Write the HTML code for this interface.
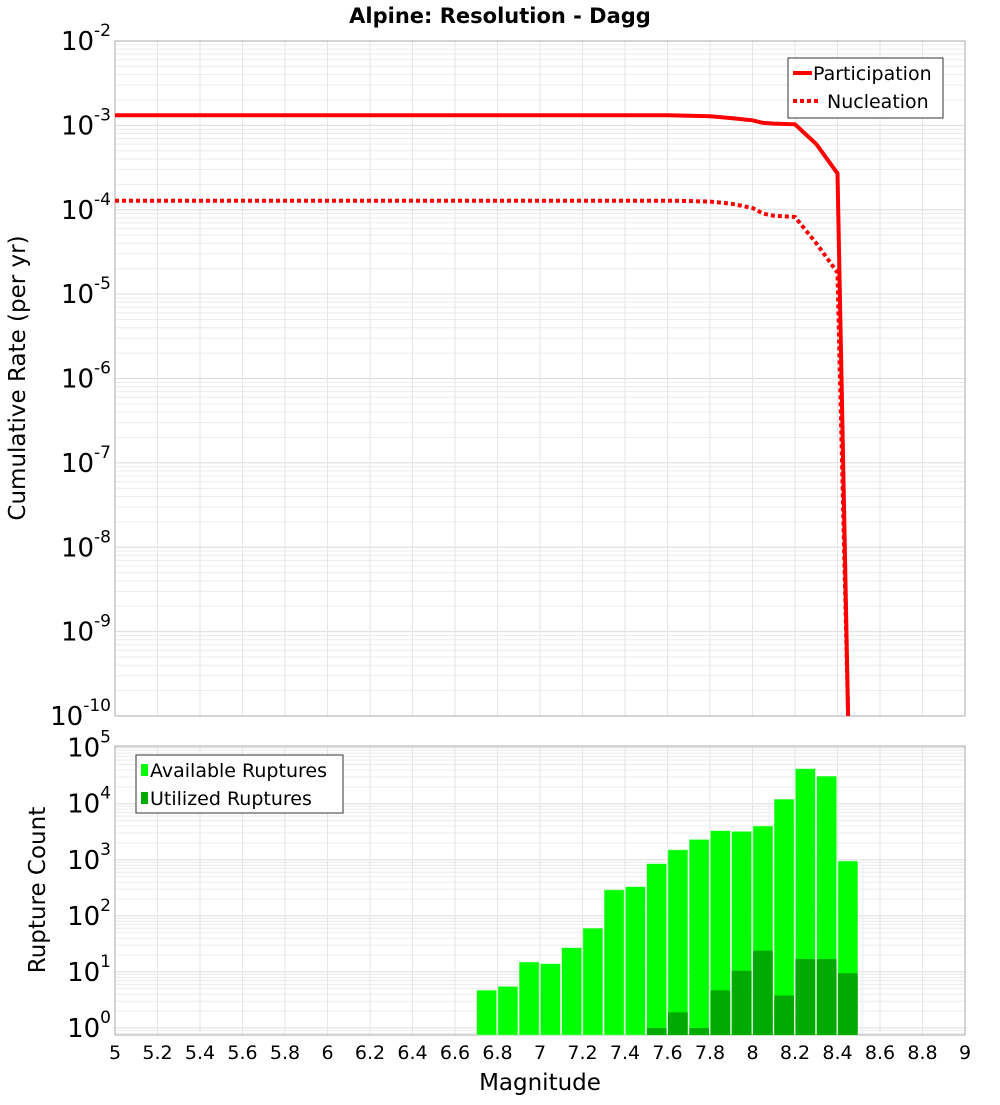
<!DOCTYPE html>
<html><head><meta charset="utf-8"><style>
body{margin:0;background:#fff;font-family:"Liberation Sans","DejaVu Sans",sans-serif}
</style></head><body>
<svg id="c" width="1000" height="1100" xmlns="http://www.w3.org/2000/svg" font-family="DejaVu Sans, Liberation Sans, sans-serif"></svg>
<script>
const mags=[5,5.5,6,6.5,7,7.5,7.6,7.7,7.8,7.9,8.0,8.05,8.1,8.2,8.3,8.4,8.45];
const partRates=[1.32e-3,1.32e-3,1.32e-3,1.32e-3,1.32e-3,1.32e-3,1.32e-3,1.3e-3,1.28e-3,1.22e-3,1.15e-3,1.07e-3,1.05e-3,1.03e-3,6e-4,2.7e-4,1e-10];
const nuclRates=[1.28e-4,1.28e-4,1.28e-4,1.28e-4,1.28e-4,1.28e-4,1.28e-4,1.27e-4,1.25e-4,1.18e-4,1.05e-4,9e-5,8.5e-5,8.2e-5,4e-5,1.8e-5,1e-10];
const binCenters=[6.75,6.85,6.95,7.05,7.15,7.25,7.35,7.45,7.55,7.65,7.75,7.85,7.95,8.05,8.15,8.25,8.35,8.45];
const available=[4.7,5.5,15,14,27,60,290,330,850,1500,2300,3300,3200,4000,12000,42000,31000,950];
const utilized=[0,0,0,0,0,0,0,0,1,1.9,1,4.7,10.5,24,3.8,17,17,9.5];
const xTicks=[5,5.2,5.4,5.6,5.8,6,6.2,6.4,6.6,6.8,7,7.2,7.4,7.6,7.8,8,8.2,8.4,8.6,8.8,9];
const topExps=[-2,-3,-4,-5,-6,-7,-8,-9,-10];
const botExps=[0,1,2,3,4,5];

const svg=document.getElementById('c');const NS='http://www.w3.org/2000/svg';
function mk(t,a,p){const e=document.createElementNS(NS,t);for(const k in a)e.setAttribute(k,a[k]);(p||svg).appendChild(e);return e;}
const X0=115,X1=965;
const xs=m=>X0+(m-5)/4*(X1-X0);
const T0=41,T1=716;
const yTop=v=>T0+(-2-Math.log10(v))/8*(T1-T0);
const B0=746,B1=1035,BMIN=Math.log10(0.75),BMAX=5.03;
const yBot=v=>B1-(Math.log10(v)-BMIN)/(BMAX-BMIN)*(B1-B0);

// title
let t=mk('text',{x:500,y:23,'text-anchor':'middle','font-size':21,'font-weight':'bold'});t.textContent='Alpine: Resolution - Dagg';



function grid(y0,y1,yfn,e0,e1){
  const g=mk('g',{stroke:'#e6e6e6','stroke-width':1});
  
  
  for(let e=e0;e<e1;e++)for(let k=1;k<10;k++){const y=yfn(k*Math.pow(10,e));if(y>=y0&&y<=y1)mk('line',{x1:X0,x2:X1,y1:y,y2:y,stroke:k==1?'#dcdcdc':'#ececec'},g);}
  for(const m of xTicks){const x=xs(m);mk('line',{x1:x,x2:x,y1:y0,y2:y1},g);}
}
grid(T0,T1,yTop,-10,-1);
grid(B0,B1,yBot,-1,6);

// top frame
let f=mk('rect',{x:X0,y:T0,width:X1-X0,height:T1-T0,fill:'none',stroke:'#aaa'});


f=mk('rect',{x:X0,y:B0,width:X1-X0,height:B1-B0,fill:'none',stroke:'#aaa'});



// y tick labels
function expLabel(y,e,name){
  const tx=mk('text',{x:X0-4,y:y+9,'text-anchor':'end','font-size':26});
  
  
  const a=mk('tspan',{},tx);a.textContent='10';
  const b=mk('tspan',{dy:-14,'font-size':17},tx);b.textContent=String(e);
}
for(const e of topExps)expLabel(yTop(Math.pow(10,e)),e,'y-tick-label');
for(const e of botExps)expLabel(yBot(Math.pow(10,e)),e,'y-tick-label-bottom');

// x tick labels
for(const m of xTicks){const tx=mk('text',{x:xs(m),y:1059,'text-anchor':'middle','font-size':19});tx.textContent=String(m);

}
t=mk('text',{x:540,y:1090,'text-anchor':'middle','font-size':23});t.textContent='Magnitude';


t=mk('text',{x:0,y:0,'text-anchor':'middle','font-size':23,transform:'translate(25,378) rotate(-90)'});t.textContent='Cumulative Rate (per yr)';


t=mk('text',{x:0,y:0,'text-anchor':'middle','font-size':23,transform:'translate(45,890) rotate(-90)'});t.textContent='Rupture Count';



// bars
const bw=(X1-X0)/40;
for(let i=0;i<binCenters.length;i++){
  const x=xs(binCenters[i])-bw/2;
  const y=yBot(available[i]);
  const r=mk('rect',{x:x+0.5,y:y,width:bw-1.5,height:B1-y,fill:'#00ff00',stroke:'#9f9','stroke-width':0.5});
  
  
  if(utilized[i]>0){const yu=Math.min(yBot(utilized[i]),B1);
  const u=mk('rect',{x:x+0.5,y:yu,width:bw-1.5,height:B1-yu,fill:'#00aa00'});
  
  }
}

// lines
function line(vals,dash,name){
  const d=mags.map((m,i)=>(i?'L':'M')+xs(m).toFixed(1)+','+Math.min(yTop(vals[i]),T1).toFixed(1)).join(' ');
  const p=mk('path',{d:d,fill:'none',stroke:'#ff0000','stroke-width':4,'stroke-dasharray':dash||'none'});
  
  
}
line(partRates,null,'participation-line');
line(nuclRates,'4,3','nucleation-line');

// top legend
const lg=mk('g',{});


mk('rect',{x:788,y:58,width:155,height:60,fill:'#fff',stroke:'#333'},lg);
mk('line',{x1:793,x2:812,y1:73,y2:73,stroke:'red','stroke-width':4},lg);
mk('line',{x1:793,x2:820,y1:101,y2:101,stroke:'red','stroke-width':4,'stroke-dasharray':'4,3'},lg);
t=mk('text',{x:813,y:80,'font-size':19},lg);t.textContent='Participation';
t=mk('text',{x:827,y:108,'font-size':19},lg);t.textContent='Nucleation';

// bottom legend
const lb=mk('g',{});


mk('rect',{x:136,y:755,width:207,height:58,fill:'#fff',stroke:'#333'},lb);
mk('rect',{x:141,y:764,width:7,height:12,fill:'#00ff00'},lb);
mk('rect',{x:141,y:792,width:7,height:12,fill:'#00aa00'},lb);
t=mk('text',{x:150,y:777,'font-size':19},lb);t.textContent='Available Ruptures';
t=mk('text',{x:150,y:805,'font-size':19},lb);t.textContent='Utilized Ruptures';
</script>
</body></html>
